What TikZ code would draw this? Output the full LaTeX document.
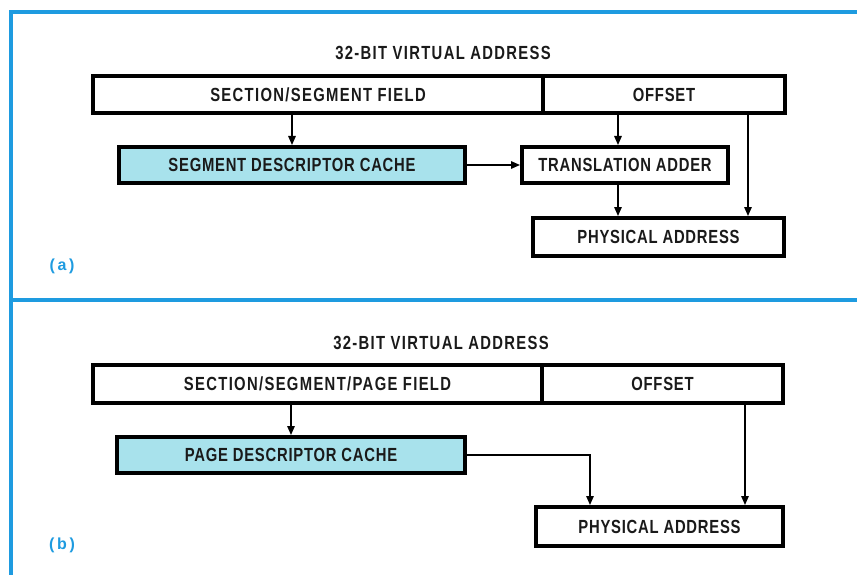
\documentclass[tikz,border=0pt]{standalone}
\usepackage{fontspec}
\setmainfont{Liberation Sans}[FakeStretch=0.78, LetterSpace=4]
\newfontfamily\labfont{Liberation Sans}
\usetikzlibrary{arrows.meta,calc}
\definecolor{frameblue}{HTML}{1E9BE0}
\definecolor{cachefill}{HTML}{A8E2EC}
\definecolor{ink}{HTML}{1A1A1A}
\tikzset{
  box/.style={draw=black, line width=4pt, rectangle, inner sep=0pt, fill=white,
    font=\fontsize{19}{22}\selectfont\bfseries, text=ink},
  widebox/.style={box, font=\fontsize{19}{22}\selectfont\bfseries\addfontfeature{LetterSpace=7}},
  cachebox/.style={box, fill=cachefill},
  conn/.style={line width=1.4pt, draw=black},
  arr/.style={conn, -{Triangle[length=9pt,width=7.5pt]}},
  title/.style={font=\fontsize{19}{22}\selectfont\bfseries\addfontfeature{LetterSpace=7}, text=ink},
  plabel/.style={font=\labfont\fontsize{16}{18}\selectfont\bfseries, text=frameblue},
  frame/.style={draw=frameblue, line width=4pt}
}
\begin{document}
\begin{tikzpicture}[x=1pt,y=-1pt]
\useasboundingbox (0,0) rectangle (857,575);
\fill[white] (0,0) rectangle (857,575);
% frame
\draw[frame] (857,12) -- (11,12) -- (11,575);
\draw[frame] (11,300) -- (857,300);

% ---------- panel (a)
\node[title] (titleA) at (443,53) {32-BIT VIRTUAL ADDRESS};
\node[widebox, minimum width=450pt, minimum height=37pt] (secA) at (318,94.5) {SECTION/SEGMENT FIELD};
\node[box, minimum width=242pt, minimum height=37pt] (offA) at (664,94.5) {OFFSET};
\node[cachebox, minimum width=346pt, minimum height=36pt] (cacheA) at (292,165) {SEGMENT DESCRIPTOR CACHE};
\node[box, minimum width=206pt, minimum height=36pt] (adderA) at (625,165) {TRANSLATION ADDER};
\node[box, minimum width=251pt, minimum height=38pt] (physA) at (658.5,237) {PHYSICAL ADDRESS};
\node[plabel] (labA) at (62,266) {(\,a\,)};
\coordinate (xoffA) at (618,0);
\coordinate (xrA) at (748,0);
\draw[arr] (cacheA.north |- secA.south) -- (cacheA.north);
\draw[arr] (xoffA |- offA.south) -- (xoffA |- adderA.north);
\draw[arr] (cacheA.east) -- (adderA.west);
\draw[arr] (xoffA |- adderA.south) -- (xoffA |- physA.north);
\draw[arr] (xrA |- offA.south) -- (xrA |- physA.north);

% ---------- panel (b)
\node[title] (titleB) at (441,343) {32-BIT VIRTUAL ADDRESS};
\node[widebox, minimum width=449pt, minimum height=38pt] (secB) at (317.5,384) {SECTION/SEGMENT/PAGE FIELD};
\node[box, minimum width=241pt, minimum height=38pt] (offB) at (662.5,384) {OFFSET};
\node[cachebox, minimum width=348pt, minimum height=36pt] (cacheB) at (291,455) {PAGE DESCRIPTOR CACHE};
\node[box, minimum width=247pt, minimum height=39pt] (physB) at (659.5,526.5) {PHYSICAL ADDRESS};
\node[plabel] (labB) at (62,545) {(\,b\,)};
\coordinate (xcB) at (590,0);
\coordinate (xrB) at (745,0);
\draw[arr] (cacheB.north |- secB.south) -- (cacheB.north);
\draw[arr] (cacheB.east) -| (xcB |- physB.north);
\draw[arr] (xrB |- offB.south) -- (xrB |- physB.north);
\end{tikzpicture}
\end{document}
